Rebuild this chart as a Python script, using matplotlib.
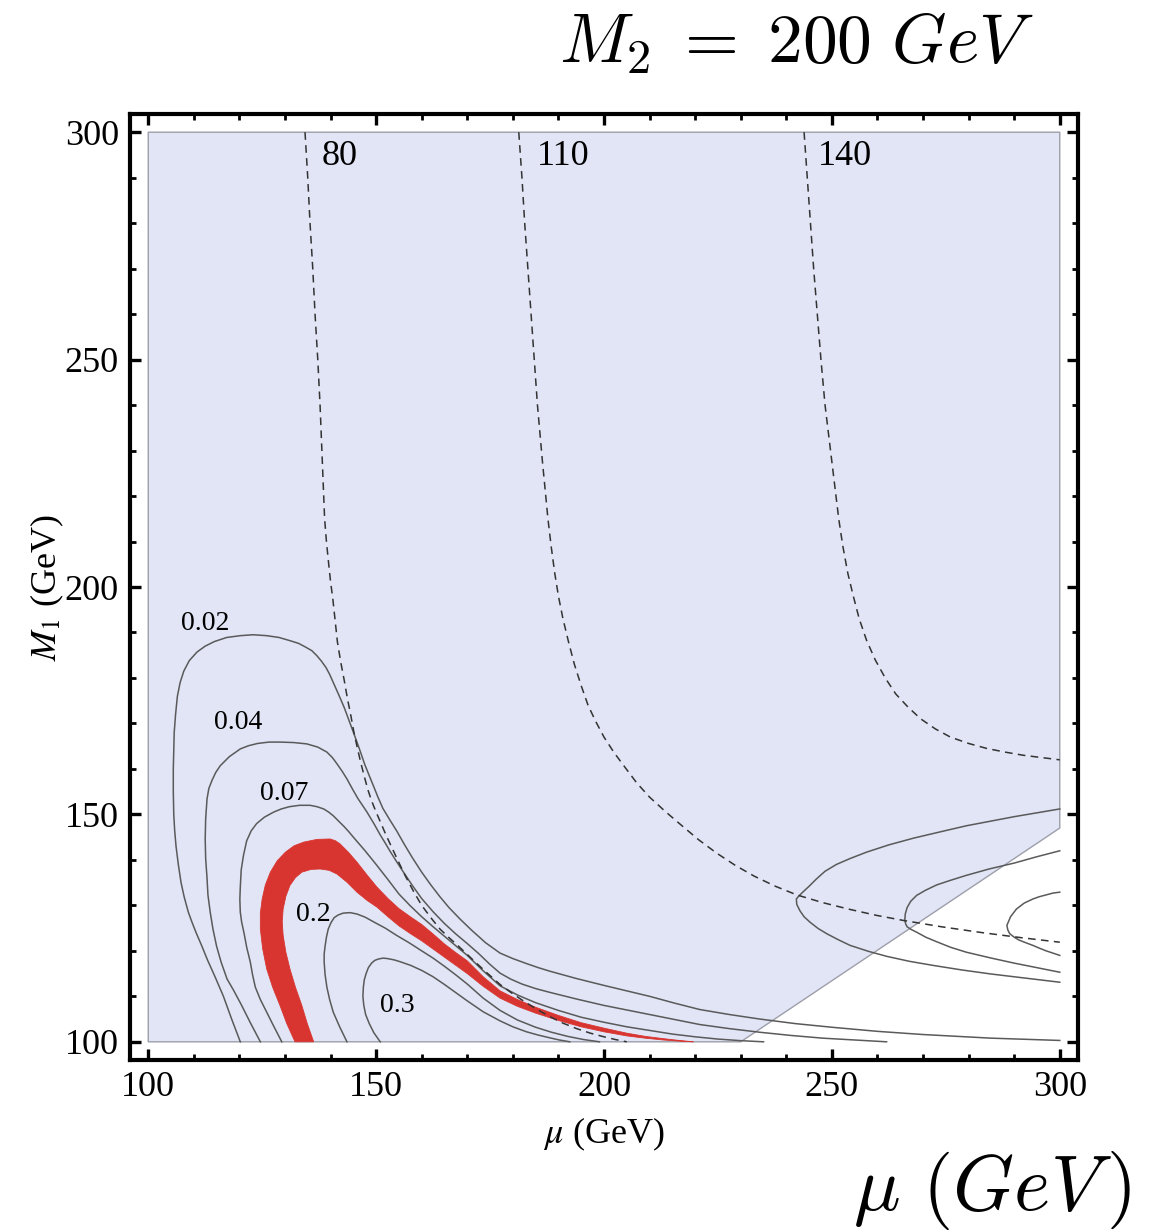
import matplotlib

matplotlib.use("Agg")

import matplotlib.pyplot as plt
from matplotlib.ticker import MultipleLocator

# allowed region (shaded) outline
region_x = [100, 100, 300, 300, 230]
region_y = [100, 300, 300, 147, 100]

# solid relic-density contours
c002_x = [120.2, 118.3, 116.5, 114.7, 113.0, 111.7, 110.5, 109.6, 108.8, 107.9, 107.2, 106.6,
          106.1, 105.8, 105.6, 105.5, 105.5, 105.6, 105.7, 106.0, 106.4, 107.0, 107.8, 109.0,
          110.7, 112.5, 114.5, 117.2, 120.2, 123.0, 126.0, 128.7, 131.1, 133.0, 134.5, 135.9,
          137.0, 138.0, 139.0, 139.8, 140.6, 141.8, 143.0, 144.0, 145.0, 146.3, 147.5, 148.5,
          149.4, 150.4, 151.5, 153.0, 154.5, 156.2, 158.0, 160.0, 162.0, 164.0, 166.0, 168.5,
          171.0, 174.0, 177.2, 180.0, 183.0, 185.6, 188.2, 194.0, 200.0, 205.0, 210.0, 215.5,
          221.0, 227.5, 234.2, 242.0, 250.0, 260.0, 270.0, 285.0, 300.0]
c002_y = [100.0, 105.0, 110.0, 114.2, 118.0, 121.2, 124.0, 126.3, 128.5, 131.8, 135.0, 139.0,
          143.0, 146.5, 150.0, 155.0, 160.0, 164.0, 168.0, 172.0, 176.0, 179.0, 181.5, 183.8,
          185.7, 187.0, 188.0, 188.9, 189.3, 189.5, 189.3, 188.9, 188.2, 187.6, 186.8, 186.0,
          184.9, 183.7, 182.3, 180.8, 179.0, 176.3, 173.5, 170.8, 168.1, 164.5, 161.0, 158.5,
          156.3, 153.8, 151.3, 148.8, 146.4, 143.4, 140.4, 137.3, 134.5, 131.9, 129.5, 126.9,
          124.5, 121.8, 119.5, 118.3, 117.2, 116.3, 115.5, 113.9, 112.4, 111.2, 110.0, 108.5,
          107.1, 106.0, 105.0, 104.0, 103.2, 102.3, 101.6, 100.8, 100.3]

c004_x = [124.6, 122.4, 120.5, 118.8, 117.3, 116.0, 115.0, 114.2, 113.6, 113.1, 112.9, 112.6,
          112.5, 112.6, 112.9, 113.3, 114.0, 114.8, 115.8, 117.8, 120.2, 122.0, 124.0, 126.5,
          128.9, 131.9, 134.8, 137.2, 139.2, 140.4, 141.5, 142.6, 143.6, 144.8, 146.0, 147.0,
          148.0, 149.5, 150.9, 152.0, 153.0, 154.5, 156.0, 158.0, 160.0, 162.5, 165.0, 167.5,
          170.0, 172.5, 175.0, 177.2, 179.5, 182.0, 185.0, 188.0, 194.0, 200.0, 205.0, 210.0,
          215.5, 221.0, 227.5, 234.2, 241.0, 248.0, 255.0, 262.0]
c004_y = [100.0, 104.2, 108.0, 111.2, 113.8, 117.5, 121.0, 124.8, 128.5, 132.3, 136.0, 140.3,
          144.6, 149.0, 153.4, 155.7, 157.5, 159.2, 160.7, 162.7, 164.4, 165.1, 165.6, 165.9,
          165.9, 165.8, 165.5, 164.8, 163.7, 162.5, 161.0, 159.4, 157.8, 155.6, 153.5, 152.0,
          150.5, 148.0, 145.5, 143.7, 142.0, 139.6, 137.3, 134.3, 131.5, 128.6, 126.0, 123.7,
          121.6, 119.4, 117.0, 115.1, 113.8, 112.7, 111.7, 110.9, 109.4, 108.0, 107.0, 106.0,
          104.9, 103.8, 102.9, 102.1, 101.4, 100.8, 100.4, 100.0]

c007_x = [129.3, 127.6, 126.0, 124.6, 123.5, 122.9, 122.4, 121.6, 121.0, 120.5, 120.2, 120.1,
          120.2, 120.4, 120.9, 121.6, 122.6, 123.8, 125.5, 127.5, 129.2, 131.0, 133.2, 135.5,
          137.0, 138.5, 139.6, 140.6, 141.8, 143.0, 144.0, 145.0, 147.5, 150.0, 152.5, 155.0,
          157.5, 160.0, 162.5, 165.0, 167.5, 170.0, 173.5, 177.2, 181.0, 185.0, 190.0, 195.0,
          200.0, 205.0, 210.0, 215.0, 220.0, 225.0, 230.0, 235.0]
c007_y = [100.0, 103.3, 106.5, 109.3, 112.0, 114.7, 117.5, 120.8, 124.0, 126.3, 128.5, 131.3,
          134.0, 137.8, 141.0, 144.2, 146.4, 148.0, 149.4, 150.5, 151.2, 151.7, 152.0, 152.0,
          151.7, 151.2, 150.5, 149.7, 148.5, 147.3, 146.2, 145.0, 142.1, 139.0, 135.8, 132.5,
          129.9, 127.5, 125.3, 123.2, 121.1, 119.0, 115.6, 112.3, 110.3, 108.6, 106.9, 105.4,
          104.3, 103.3, 102.5, 101.7, 101.1, 100.6, 100.25, 100.0]

c02_x = [143.6, 142.0, 140.6, 139.8, 139.2, 138.8, 138.6, 138.6, 138.8, 139.1, 139.5, 140.1,
         140.8, 141.7, 142.8, 144.3, 145.8, 147.6, 149.4, 152.0, 154.5, 157.2, 160.0, 162.5,
         165.0, 167.5, 170.0, 173.5, 177.2, 181.0, 185.0, 188.5, 192.0, 195.5, 199.0]
c02_y = [100.0, 103.3, 106.5, 109.3, 112.0, 114.8, 117.5, 119.3, 121.0, 123.0, 124.8, 126.2,
         127.3, 127.9, 128.3, 128.4, 128.1, 127.4, 126.4, 125.0, 123.4, 121.8, 120.0, 118.4,
         116.6, 114.7, 112.7, 109.6, 106.9, 104.8, 103.2, 102.1, 101.2, 100.5, 100.0]

c03_x = [150.9, 149.5, 148.5, 147.7, 147.3, 147.1, 147.2, 147.4, 147.8, 148.3, 149.0, 149.7,
         150.5, 151.5, 152.5, 154.0, 155.3, 157.6, 160.0, 162.5, 165.0, 167.5, 170.0, 173.5,
         177.2, 180.0, 183.0, 185.5, 188.0, 190.2, 192.5]
c03_y = [100.0, 102.0, 104.0, 106.0, 108.0, 110.0, 112.0, 113.6, 115.0, 116.3, 117.3, 117.9,
         118.2, 118.4, 118.3, 118.0, 117.6, 116.8, 115.7, 114.3, 112.6, 110.8, 109.0, 106.6,
         104.6, 103.3, 102.2, 101.5, 100.9, 100.4, 100.0]

# red band (observed value window)
red_outer_x = [132.2, 130.4, 128.9, 127.3, 126.0, 125.1, 124.6, 124.6, 125.0, 125.7, 126.8,
               128.3, 130.1, 132.0, 134.1, 137.0, 139.9, 141.1, 142.1, 143.9, 145.8, 148.0,
               150.2, 152.6, 155.0, 157.5, 160.0, 162.5, 165.0, 167.5, 170.0, 173.5, 177.2,
               181.0, 185.0, 190.0, 195.0, 200.0, 205.0, 209.0, 213.0, 216.5, 219.6]
red_outer_y = [100.0, 104.0, 108.0, 112.0, 116.0, 120.5, 124.8, 128.3, 131.4, 134.5, 137.3,
               139.8, 141.7, 143.1, 143.9, 144.5, 144.6, 144.2, 143.5, 141.7, 139.5, 136.7,
               134.0, 131.5, 129.3, 127.5, 125.8, 123.7, 121.5, 119.6, 117.8, 114.3, 111.2,
               109.3, 107.6, 105.8, 104.2, 103.0, 101.9, 101.2, 100.7, 100.3, 100.0]
red_inner_x = [136.3, 134.9, 133.7, 132.3, 131.1, 130.2, 129.6, 129.4, 129.6, 130.2, 131.1,
               132.3, 133.7, 135.7, 137.7, 139.7, 141.4, 143.6, 145.8, 148.0, 150.2, 152.6,
               155.0, 157.5, 160.0, 162.5, 165.0, 167.5, 170.0, 173.5, 177.2, 181.0, 185.0,
               190.0, 195.0, 200.0, 205.0, 209.0, 213.0, 216.5, 219.6]
red_inner_y = [100.0, 104.0, 108.0, 112.0, 116.0, 119.7, 123.4, 126.4, 129.2, 132.0, 134.4,
               136.1, 137.3, 137.9, 138.0, 137.7, 136.9, 135.1, 132.9, 131.1, 129.6, 127.5,
               125.5, 123.8, 122.2, 120.4, 118.6, 116.8, 115.0, 112.2, 109.6, 107.8, 106.3,
               104.7, 103.3, 102.2, 101.3, 100.8, 100.4, 100.15, 100.0]

# contours inside the excluded corner
w1_x = [300.0, 290.0, 279.5, 273.5, 268.0, 262.5, 257.6, 254.0, 251.0, 248.5, 246.6, 245.0,
        243.6, 242.7, 242.2, 242.3, 243.0, 243.9, 245.2, 247.0, 249.0, 251.5, 254.0, 258.0,
        262.0, 267.0, 272.2, 278.5, 285.0, 292.5, 300.0]
w1_y = [151.2, 149.5, 147.5, 146.1, 144.8, 143.3, 141.7, 140.3, 139.0, 137.5, 135.8, 134.2,
        132.9, 132.0, 131.4, 130.2, 128.8, 127.5, 126.3, 124.9, 123.7, 122.4, 121.2, 119.9,
        118.8, 117.7, 116.8, 115.8, 114.9, 114.0, 113.1]
w2_x = [300.0, 295.0, 290.0, 284.5, 279.5, 276.0, 273.0, 270.5, 268.6, 267.3, 266.5, 266.1,
        266.0, 266.2, 266.5, 267.4, 268.6, 270.6, 273.0, 276.0, 279.5, 285.0, 290.0, 295.0,
        300.0]
w2_y = [142.0, 140.7, 139.3, 138.0, 136.6, 135.5, 134.5, 133.3, 132.2, 130.9, 129.5, 128.1,
        126.7, 125.9, 125.3, 124.7, 124.1, 123.0, 122.0, 120.8, 119.7, 118.4, 117.3, 116.3,
        115.3]
w3_x = [300.0, 298.5, 297.0, 295.5, 294.1, 292.2, 290.5, 289.2, 288.4, 288.6, 289.0, 290.0,
        291.0, 292.5, 294.1, 295.5, 297.0, 298.5, 300.0]
w3_y = [132.9, 132.7, 132.3, 131.9, 131.4, 130.5, 129.2, 127.5, 125.6, 124.6, 123.8, 123.0,
        122.4, 121.8, 121.2, 120.6, 120.0, 119.5, 119.0]

# dashed neutralino-mass contours
m80_x = [134.4, 135.0, 135.5, 136.1, 136.6, 137.2, 137.7, 138.2, 138.7, 139.1, 139.6, 140.0,
         140.5, 141.0, 141.5, 142.2, 143.0, 143.7, 144.5, 145.1, 145.8, 146.6, 147.5, 148.2,
         149.0, 150.0, 151.0, 152.2, 153.5, 155.0, 156.5, 158.2, 160.0, 162.0, 164.0, 166.0,
         168.0, 170.0, 172.0, 174.5, 177.2, 179.5, 182.0, 185.0, 188.0, 191.0, 194.0, 197.0,
         200.0, 202.5, 205.0]
m80_y = [300.0, 290.0, 280.0, 270.0, 260.0, 250.0, 240.0, 227.5, 215.0, 210.0, 205.0, 201.2,
         197.4, 192.7, 188.0, 183.7, 179.5, 175.5, 171.5, 168.2, 165.0, 161.5, 158.0, 155.4,
         153.0, 150.5, 148.2, 145.4, 142.6, 139.4, 136.3, 133.1, 130.0, 127.3, 124.8, 122.9,
         121.1, 119.2, 117.3, 115.0, 112.6, 110.9, 109.2, 107.3, 105.6, 104.1, 102.9, 101.9,
         101.1, 100.5, 100.0]
m110_x = [181.3, 182.0, 182.6, 183.3, 184.0, 184.7, 185.4, 186.5, 187.7, 188.4, 189.2, 190.0,
          191.0, 192.2, 193.5, 195.0, 196.5, 198.2, 200.0, 202.2, 204.5, 207.2, 210.0, 213.5,
          217.0, 220.8, 224.7, 228.8, 233.0, 237.6, 242.3, 248.0, 254.0, 259.8, 265.6, 274.0,
          283.0, 291.5, 300.0]
m110_y = [300.0, 290.0, 280.0, 270.0, 260.0, 250.0, 240.0, 227.5, 215.0, 209.0, 203.0, 198.0,
          193.0, 188.0, 183.0, 178.3, 174.0, 170.4, 167.0, 163.6, 160.5, 156.9, 153.8, 150.6,
          147.6, 144.4, 141.5, 138.8, 136.4, 134.2, 132.3, 130.6, 129.1, 127.8, 126.7, 125.3,
          124.0, 122.9, 121.9]
m140_x = [243.9, 244.6, 245.3, 246.0, 246.8, 247.6, 248.5, 250.0, 251.5, 252.4, 253.5, 254.7,
          256.0, 257.6, 259.5, 261.7, 264.0, 266.7, 269.5, 272.7, 276.0, 280.0, 284.0, 288.0,
          292.0, 296.0, 300.0]
m140_y = [300.0, 290.0, 280.0, 270.0, 260.0, 250.0, 240.0, 227.5, 215.0, 209.0, 203.0, 198.0,
          193.0, 188.3, 184.0, 180.0, 176.5, 173.6, 171.0, 168.8, 167.0, 165.6, 164.5, 163.7,
          163.0, 162.5, 162.0]

contour_labels = ["0.02", "0.04", "0.07", "0.2", "0.3"]
contour_label_x = [112.5, 119.7, 129.8, 136.2, 154.6]
contour_label_y = [191.9, 170.1, 154.5, 128.1, 107.9]
mass_labels = ["80", "110", "140"]
mass_label_x = [141.9, 191.0, 252.9]
mass_label_y = [294.7, 294.7, 294.7]


def main() -> None:
    plt.rcParams["font.family"] = "serif"
    plt.rcParams["font.serif"] = ["Liberation Serif", "DejaVu Serif"]
    plt.rcParams["mathtext.fontset"] = "stix"

    fig = plt.figure(figsize=(11.73, 12.32), dpi=100)
    ax = fig.add_axes([130 / 1173, 1 - 1060 / 1232, 948 / 1173, 946 / 1232])
    ax.set_xlim(96, 304)
    ax.set_ylim(96, 304)

    ax.fill(region_x, region_y, facecolor="#e1e5f5", edgecolor="#9c9faa",
            linewidth=1.0, zorder=1)

    band_x = red_outer_x + red_inner_x[::-1]
    band_y = red_outer_y + red_inner_y[::-1]
    ax.fill(band_x, band_y, facecolor="#d93530", edgecolor="#d93530",
            linewidth=0.6, zorder=2)

    line_kw = dict(color="#5a5a5a", linewidth=1.1, zorder=3, solid_joinstyle="round")
    for xs, ys in [(c002_x, c002_y), (c004_x, c004_y), (c007_x, c007_y),
                   (c02_x, c02_y), (c03_x, c03_y),
                   (w1_x, w1_y), (w2_x, w2_y), (w3_x, w3_y)]:
        ax.plot(xs, ys, **line_kw)

    for xs, ys in [(m80_x, m80_y), (m110_x, m110_y), (m140_x, m140_y)]:
        ax.plot(xs, ys, color="#333333", linewidth=1.1, dashes=(5, 3.5), zorder=3)

    for text, x, y in zip(contour_labels, contour_label_x, contour_label_y):
        ax.text(x, y, text, fontsize=20, ha="center", va="center", zorder=4)
    for text, x, y in zip(mass_labels, mass_label_x, mass_label_y):
        ax.text(x, y, text, fontsize=26, ha="center", va="center", zorder=4)

    for side in ax.spines.values():
        side.set_linewidth(3.0)
    ax.xaxis.set_major_locator(MultipleLocator(50))
    ax.yaxis.set_major_locator(MultipleLocator(50))
    ax.xaxis.set_minor_locator(MultipleLocator(10))
    ax.yaxis.set_minor_locator(MultipleLocator(10))
    ax.tick_params(which="both", direction="in", top=True, right=True,
                   labelsize=26, pad=8)
    ax.tick_params(which="major", length=8, width=2.4)
    ax.tick_params(which="minor", length=4.5, width=2.0)

    ax.set_xlabel(r"$\mu$ (GeV)", fontsize=26, labelpad=8)
    fig.text(47 / 1173, 1 - 588 / 1232, r"$M_1$ (GeV)", fontsize=26,
             rotation=90, ha="center", va="center")

    fig.text(797 / 1173, 1 - 44 / 1232, r"$M_2 \;=\; 200\ GeV$", fontsize=50,
             ha="center", va="center", math_fontfamily="cm")
    fig.text(992 / 1173, 1 - 1190 / 1232, r"$\mu\ (GeV\,)$", fontsize=56,
             ha="center", va="center", math_fontfamily="cm")

    fig.savefig("out.png", dpi=100)
    plt.close(fig)


if __name__ == "__main__":
    main()
